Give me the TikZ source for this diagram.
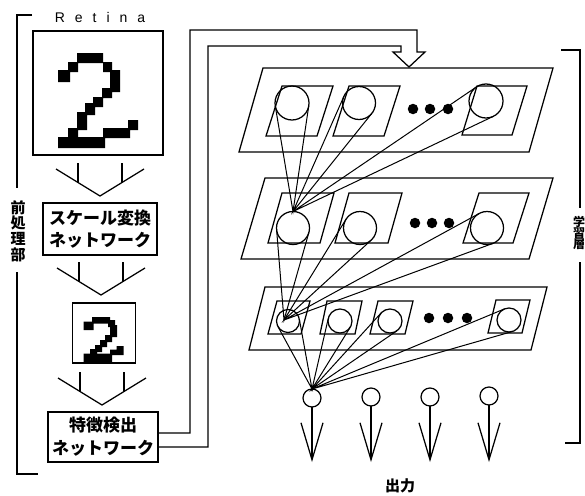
\documentclass[tikz,border=0pt]{standalone}
\usepackage{fontspec}
\setmainfont{Liberation Sans}
\newfontfamily\jp{Noto Sans CJK JP}
\usetikzlibrary{calc,arrows.meta}
\newcommand\twoglyph{%
  \fill (77,53) rectangle (103,63)
        (68,62) rectangle (78,72)
        (58,70) rectangle (70,82)
        (103,62) rectangle (112,72)
        (110,70) rectangle (120,92)
        (102,88) rectangle (112,98)
        (93,97) rectangle (103,107)
        (85,103) rectangle (95,115)
        (77,112) rectangle (87,130)
        (68,128) rectangle (78,138)
        (58,137) rectangle (105,148)
        (103,128) rectangle (130,138)
        (128,120) rectangle (138,130);}
\newcommand\smalltwoglyph{%
  \fill (92,317) rectangle (110,323.5)
        (83.5,321.5) rectangle (93.5,330)
        (108,320) rectangle (115,327)
        (110,325) rectangle (117,337)
        (105,335) rectangle (112,342)
        (100,340) rectangle (107,347)
        (95,345) rectangle (102,352)
        (90,349) rectangle (97,355)
        (83.5,353.5) rectangle (112,362)
        (110,349.5) rectangle (123.5,355)
        (116.5,346) rectangle (123.5,352);}
% parallelogram: top-left x, top y, width, offset, height
\newcommand\slantquad[5]{\draw (#1,#2) -- ++(#3,0) -- ++(-#4,#5) -- ++(-#3,0) -- cycle;}
\newcommand\fanlines[2]{\draw[link] (tangent cs:node=#1,point={(#2)},solution=1) -- (#2) -- (tangent cs:node=#1,point={(#2)},solution=2);}
\begin{document}
\begin{tikzpicture}[x=1pt,y=-1pt,line width=1.25pt,
  box/.style={draw,rectangle,inner sep=0pt,outer sep=0pt},
  jptext/.style={font=\jp\bfseries\fontsize{17}{22}\selectfont,align=center},
  neuron/.style={draw,circle,inner sep=0pt,outer sep=0pt},
  dotn/.style={fill,circle,inner sep=0pt,outer sep=0pt,minimum size=10.5pt},
  link/.style={line width=1pt},
  outarrow/.style={-{Straight Barb[length=37pt,width=22pt]}},
  wide/.pic={\draw (-44,-27) -- (0,0) -- (44,-27);
             \draw (-22,-33) -- (-22,-13.5);
             \draw (22,-33) -- (22,-13.5);}]
\fill[white] (0,0) rectangle (585,495);
\path[use as bounding box] (0,0) rectangle (585,495);

% ---------- left column ----------
\node[font=\fontsize{14}{16}\selectfont] (rlabel) at (100,17.5)
  {R\hskip10pt e\hskip10pt t\hskip10pt i\hskip10pt n\hskip10pt a};
\node[box,minimum width=130pt,minimum height=124pt] (retina) at (98,93) {};
\twoglyph
\pic at (100,196) {wide};
\node[box,minimum width=114pt,minimum height=52pt,jptext] (scale) at (100,229)
  {スケール変換\\ネットワーク};
\pic at (101,295) {wide};
\node[box,minimum width=63pt,minimum height=60pt] (small) at (104,333) {};
\smalltwoglyph
\pic at (102,405) {wide};
\node[box,minimum width=110pt,minimum height=50pt,jptext,
      font=\jp\bfseries\fontsize{17}{23}\selectfont] (feat) at (103,437)
  {特徴検出\\ネットワーク};

% left bracket
\node[font=\jp\bfseries\fontsize{15}{15.8}\selectfont,align=center] (pre) at (18,231) {前\\処\\理\\部};
\draw (32,15) -- (17,15) -- (17,188);
\draw (17,272) -- (17,474) -- (38,474);

% ---------- pipe arrow ----------
\coordinate (tip) at (409,67);
\draw ([yshift=4pt]feat.east) -| (190,30) -| (417,52) -- (425,52) -- (tip)
      -- (393,52) -- (401,52) |- (208,46) |- ([yshift=-10pt]feat.east);

% ---------- layers ----------
\slantquad{263}{68}{290}{24}{84}
\slantquad{265}{178}{288}{24}{81}
\slantquad{265}{287}{282}{16}{63}

% cells top
\slantquad{282}{86}{51}{16}{50}
\slantquad{349}{86}{51}{16}{50}
\slantquad{477}{86}{50}{15}{49}
% cells middle
\slantquad{282}{193}{52}{14}{50}
\slantquad{349}{193}{53}{14}{50}
\slantquad{479}{193}{50}{16}{50}
% cells bottom
\slantquad{277}{301}{33}{9}{33}
\slantquad{327}{301}{35}{7}{33}
\slantquad{378}{301}{35}{8}{33}
\slantquad{496}{300}{34}{8}{33}

% neurons
\node[neuron,minimum size=34pt] (t1) at (292,103) {};
\node[neuron,minimum size=33pt] (t2) at (359,103) {};
\node[neuron,minimum size=34pt] (t3) at (486,101) {};
\node[neuron,minimum size=33pt] (m1) at (293,228) {};
\node[neuron,minimum size=33pt] (m2) at (360,228) {};
\node[neuron,minimum size=33pt] (m3) at (487,228) {};
\node[neuron,minimum size=23pt] (b1) at (288,321) {};
\node[neuron,minimum size=24pt] (b2) at (340,321) {};
\node[neuron,minimum size=24pt] (b3) at (390,321) {};
\node[neuron,minimum size=24pt] (b4) at (509,320) {};

% dots
\node[dotn] (td1) at (413,109) {};
\node[dotn] (td2) at (430,109) {};
\node[dotn] (td3) at (448,109) {};
\node[dotn] (md1) at (415,223) {};
\node[dotn] (md2) at (432,223) {};
\node[dotn] (md3) at (449,223) {};
\node[dotn] (bd1) at (429,318) {};
\node[dotn] (bd2) at (448,318) {};
\node[dotn] (bd3) at (467,318) {};

% outputs
\node[neuron,minimum size=18pt] (o1) at (312,398) {};
\node[neuron,minimum size=18pt] (o2) at (371,397) {};
\node[neuron,minimum size=18pt] (o3) at (430,397) {};
\node[neuron,minimum size=18pt] (o4) at (489,396) {};
\coordinate (a1) at (312,462);
\coordinate (a2) at (371,462);
\coordinate (a3) at (430,462);
\coordinate (a4) at (489,462);
\draw[outarrow] (o1.south) -- (a1);
\draw[outarrow] (o2.south) -- (a2);
\draw[outarrow] (o3.south) -- (a3);
\draw[outarrow] (o4.south) -- (a4);
\node[font=\jp\bfseries\fontsize{15}{16}\selectfont] (outlabel) at (400,486) {出力};

% fan connections
\coordinate (cA) at (m1.north);
\coordinate (cB) at (284,320);
\coordinate (cC) at (o1.north);
\fanlines{t1}{cA}
\fanlines{t2}{cA}
\fanlines{t3}{cA}
\fanlines{m1}{cB}
\fanlines{m2}{cB}
\fanlines{m3}{cB}
\fanlines{b1}{cC}
\fanlines{b2}{cC}
\fanlines{b3}{cC}
\fanlines{b4}{cC}

% right bracket
\node[font=\jp\bfseries\fontsize{12}{11}\selectfont,align=center] (learn) at (579,233) {学\\習\\層};
\draw (561,50) -- (580,50) -- (580,208);
\draw (580,262) -- (580,443) -- (565,443);
\end{tikzpicture}
\end{document}
